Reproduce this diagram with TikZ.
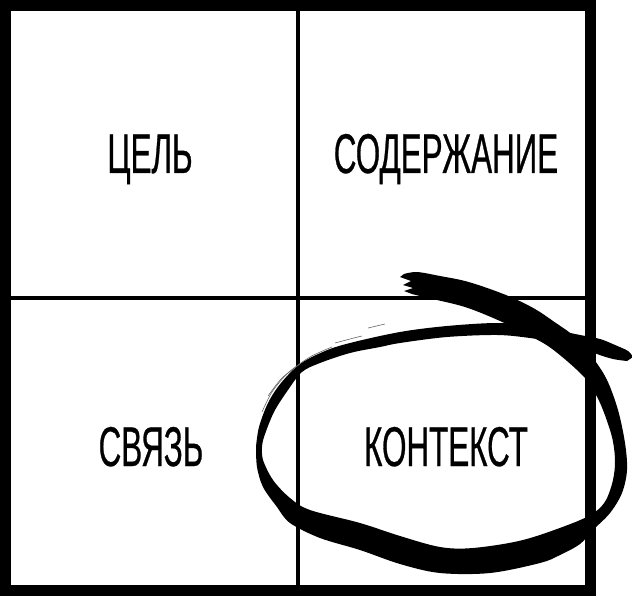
\documentclass[tikz,border=0pt]{standalone}
\usepackage{fontspec}
\setmainfont{Liberation Sans}[FakeStretch=0.56, FakeBold=0.5]
\begin{document}
\begin{tikzpicture}[x=1pt,y=-1pt,
  lbl/.style={font=\fontsize{56}{60}\selectfont, inner sep=0, anchor=base},
  gridthin/.style={line width=4pt, black},
  gridthick/.style={line width=11pt, black},
  brush/.style={fill=black, draw=none},
  hair/.style={line width=0.6pt, black!60}]
\useasboundingbox (0,0) rectangle (632,596);
\fill[white] (0,0) rectangle (632,596);
% grid
\draw[gridthin] (298,5) -- (298,591);
\draw[gridthin] (5,298) -- (591,298);
\draw[gridthick] (5.5,5.5) rectangle (590.5,590.5);
% labels
\node[lbl] (cel) at (150,173) {ЦЕЛЬ};
\node[lbl] (soderzhanie) at (446,173) {СОДЕРЖАНИЕ};
\node[lbl] (svyaz) at (151,466) {СВЯЗЬ};
\node[lbl] (kontekst) at (446,466) {КОНТЕКСТ};
% brush stroke, first pass
\fill[brush] plot[smooth, tension=0.55] coordinates {(404,274) (417,272) (440,276) (465,281) (490,289) (513,298) (535,309) (553,321) (575,337) (593,358) (607,380) (618,410) (625,443) (627,470) (622,493) (610,513) (593,530) (580,544) (560,555) (540,563) (490,573) (440,573) (400,564) (360,550) (320,538) (290,523) (277,507) (263,487) (257,467) (256,447)}
  -- plot[smooth, tension=0.55] coordinates {(262,447) (263,460) (273,480) (290,498) (310,510) (360,523) (400,536) (440,547) (473,548) (523,540) (573,523) (595,512) (606,500) (613,480) (615,460) (612,437) (603,410) (595,393) (585,378) (567,361) (548,346) (530,336) (500,321) (465,307) (428,298) (412,294)}
  -- (404,291) -- (413,288) -- (403,285) -- (411,281) -- (400,277) -- cycle;
% brush stroke, second pass
\fill[brush] plot[smooth, tension=0.55] coordinates {(256,447) (259,427) (268,403) (281,383) (300,364) (325,351) (350,343) (400,332) (447,326) (497,323) (530,326) (560,331) (580,335) (600,339) (615,345) (628,351) (633,357)}
  -- plot[smooth, tension=0.55] coordinates {(627,361) (613,359) (597,354) (580,346) (560,343) (530,338) (497,335) (447,337) (400,343) (380,347) (350,353) (320,363) (302,372) (288,390) (274,412) (264,437) (262,447)}
  -- cycle;
% dry-brush hairlines
\draw[hair] plot[smooth] coordinates {(262,412) (272,392) (288,373) (310,357) (332,347)};
\draw[hair] plot[smooth] coordinates {(268,396) (282,378) (300,364)};
\draw[hair] plot[smooth] coordinates {(335,343) (350,339) (362,336)};
\draw[hair] plot[smooth] coordinates {(368,328) (385,324)};
\end{tikzpicture}
\end{document}
